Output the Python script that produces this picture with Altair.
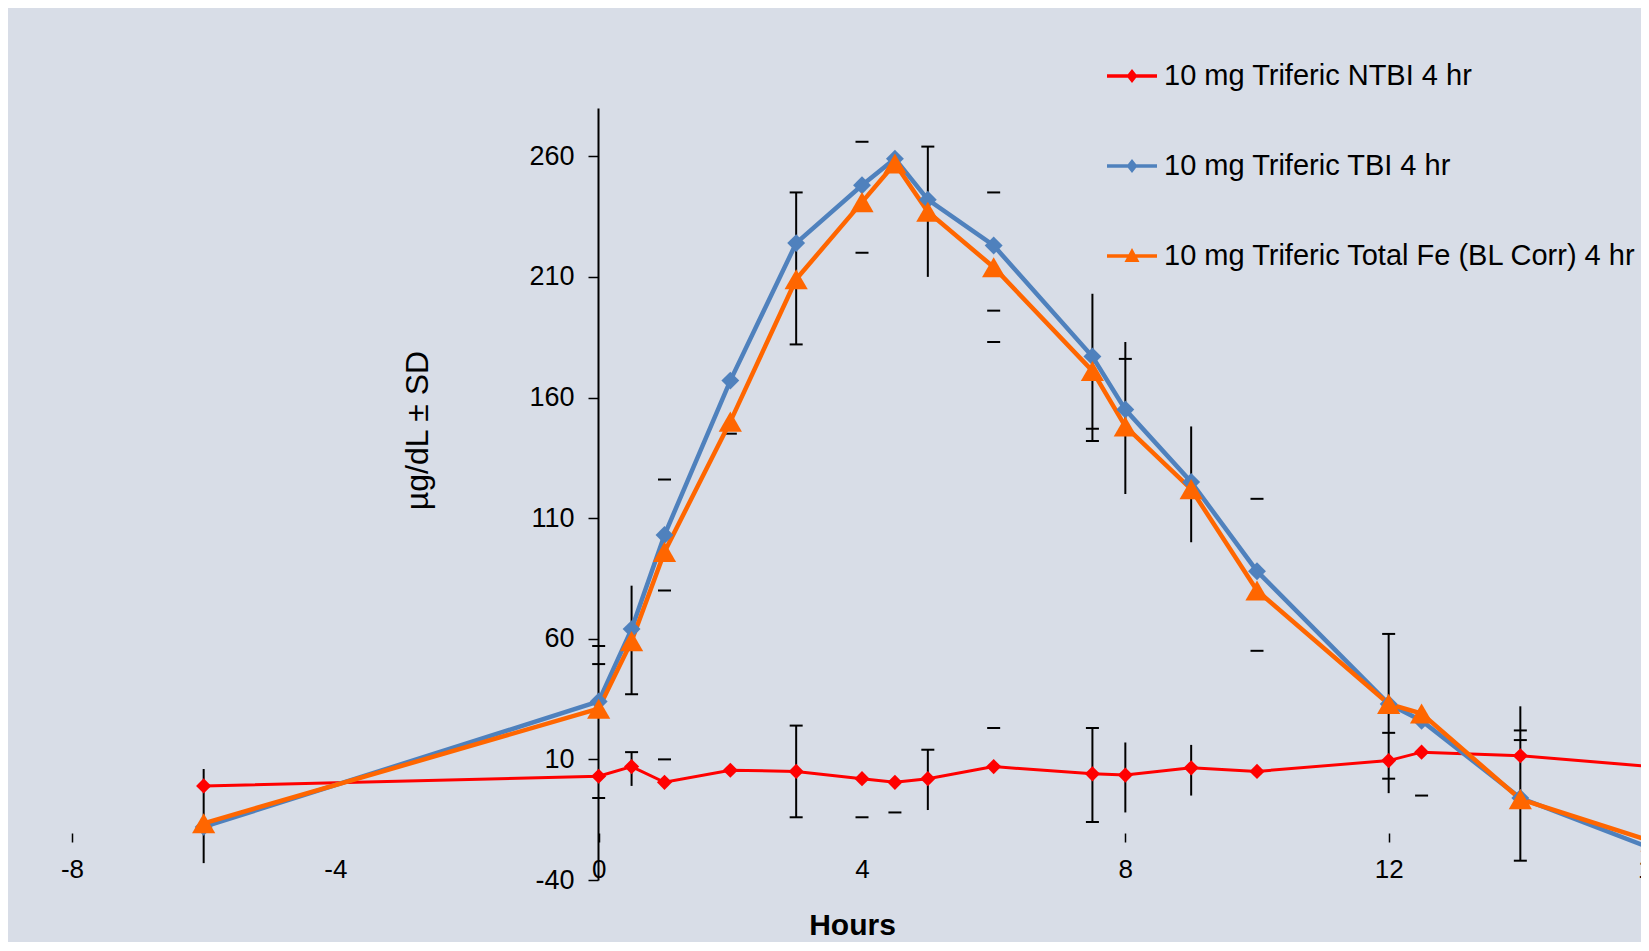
import altair as alt
import pandas as pd

# ---------------- data ----------------
series_names = [
    "10 mg Triferic NTBI 4 hr",
    "10 mg Triferic TBI 4 hr",
    "10 mg Triferic Total Fe (BL Corr) 4 hr",
]
series_colors = ["#FF0000", "#4F81BD", "#FF6600"]
series_shapes = ["diamond", "diamond", "triangle-up"]
series_sizes = [230, 320, 540]
series_widths = [3, 4.5, 4.5]

hours = [-6, 0, 0.5, 1, 2, 3, 4, 4.5, 5, 6, 7.5, 8, 9, 10, 12, 12.5, 14, 16]
ntbi = [-1, 3, 7, 0.5, 5.5, 5, 2, 0.5, 2, 7, 4, 3.5, 6.5, 5, 9.5, 13, 11.5, 7]
tbi = [-18, 34, 64, 103, 167, 224, 248, 259, 242, 223, 177, 155, 125, 88, 33, 26, -6, -27]
total_fe = [-16.5, 31, 59, 96, 150, 209, 241, 257, 237, 214, 171, 148, 122, 80, 33, 29, -6.5, -24]

# visible error-bar lines (SD)
eb_x = [-6, 0.5, 0.5, 3, 3, 5, 5, 7.5, 7.5, 8, 8, 9, 9, 12, 14]
eb_lo = [-33, 37, -1, 182, -14, 210, -11, 142, -16, 120, -12, 100, -5, -4, -32]
eb_hi = [6, 82, 13, 245, 24, 264, 14, 203, 23, 183, 17, 148, 16, 62, 32]

# visible error-bar caps
cap_x = [0, 0, 0, 0.5, 0.5, 1, 1, 1, 2, 3, 3, 3, 3, 4, 4, 4, 4.5, 5, 5,
         6, 6, 6, 6, 7.5, 7.5, 7.5, 7.5, 8, 10, 10, 12, 12, 12, 12.5, 14, 14, 14]
cap_y = [57, 49.5, -6, 37, 13, 126, 80, 10, 145, 182, 245, -14, 24, 266, 220, -14, -12, 264, 14,
         245, 196, 183, 23, 142, 147, -16, 23, 176, 118, 55, 62, 21, 2, -5, 22, 18, -32]

x_ticks = [-8, -4, 0, 4, 8, 12, 16]
x_hidden_ticks = [-4, 4]
y_ticks = [-40, 10, 60, 110, 160, 210, 260]

# ---------------- tables ----------------
rows = []
for name, vals in zip(series_names, [ntbi, tbi, total_fe]):
    for h, v in zip(hours, vals):
        rows.append({"series": name, "hours": h, "value": v})
df = pd.DataFrame(rows)
df_eb = pd.DataFrame({"hours": eb_x, "value": eb_lo, "value2": eb_hi})
df_cap = pd.DataFrame({"hours": cap_x, "value": cap_y})

FONT = "Liberation Sans"
BG = "#D8DDE7"

xscale = alt.Scale(domain=[-8, 16], range=[0, 1580], nice=False, zero=False)
yscale = alt.Scale(domain=[-40, 280], nice=False, zero=False)
color_scale = alt.Scale(domain=series_names, range=series_colors)

hidden = " || ".join(f"datum.value == {v}" for v in x_hidden_ticks)
xaxis = alt.Axis(
    values=x_ticks, orient="bottom", offset=-47, domain=False, grid=False,
    ticks=True, tickSize=9, tickWidth=1.5,
    tickColor=alt.expr(f"({hidden}) ? 'transparent' : 'black'"),
    labelExpr="'' + datum.value",
    labelFont=FONT, labelFontSize=26, labelColor="black", labelPadding=14,
    labelFlush=False, labelOverlap=False,
    titleFont=FONT, titleFontSize=30, titleFontWeight="bold", titleColor="black",
    titleX=780, titleY=92, titleBaseline="middle", titleAlign="center",
)
yaxis = alt.Axis(
    values=y_ticks, orient="left", offset=-526, domain=True, domainColor="black",
    domainWidth=2, grid=False, ticks=True, tickSize=10, tickWidth=1.5, tickColor="black",
    labelExpr="'' + datum.value",
    labelFont=FONT, labelFontSize=27, labelColor="black", labelPadding=14,
    labelFlush=False, labelOverlap=False,
    titleFont=FONT, titleFontSize=32, titleFontWeight="normal", titleColor="black",
    titleAngle=270, titleX=-181, titleY=322, titleBaseline="middle", titleAlign="center",
)

X = alt.X("hours:Q", scale=xscale, axis=xaxis, title="Hours")
Y = alt.Y("value:Q", scale=yscale, axis=yaxis, title="µg/dL ± SD")

# legend symbols: line with marker (custom paths, unit = half symbol width)
line_part = "M-1,-0.07L1,-0.07L1,0.07L-1,0.07Z"
path_for = {
    "diamond": line_part + " M0,-0.28L0.22,0L0,0.28L-0.22,0Z",
    "triangle-up": line_part + " M0,-0.32L0.3,0.24L-0.3,0.24Z",
}
shape_expr = "'" + path_for["diamond"] + "'"
for name, shp in zip(series_names, series_shapes):
    shape_expr = f"datum.value == '{name}' ? '{path_for[shp]}' : ({shape_expr})"

legend = alt.Legend(
    title=None, orient="none", legendX=1035, legendY=-57, direction="vertical",
    symbolType=alt.expr(shape_expr), symbolSize=2500, symbolStrokeWidth=0,
    symbolOpacity=1,
    labelFont=FONT, labelFontSize=29, labelColor="black", labelLimit=0,
    labelOffset=7, rowPadding=50, padding=0,
)

layers = []
layers.append(
    alt.Chart(df_eb).mark_rule(color="black", strokeWidth=2).encode(
        x=X, y=Y, y2=alt.Y2("value2:Q"))
)
layers.append(
    alt.Chart(df_cap).mark_tick(orient="horizontal", color="black", size=13,
                                thickness=2, opacity=1).encode(x=X, y=Y)
)
for name, col, w in zip(series_names, series_colors, series_widths):
    layers.append(
        alt.Chart(df).transform_filter(alt.datum.series == name)
        .mark_line(color=col, strokeWidth=w)
        .encode(x=X, y=Y, order=alt.Order("hours:Q"))
    )
for name, shp, sz in zip(series_names, series_shapes, series_sizes):
    layers.append(
        alt.Chart(df).transform_filter(alt.datum.series == name)
        .mark_point(filled=True, opacity=1, shape=shp, size=sz)
        .encode(x=X, y=Y,
                color=alt.Color("series:N", scale=color_scale, legend=legend,
                                sort=series_names))
    )

# SVG kept within the window (1633 x 934) so the page never overflows
chart = alt.layer(*layers).properties(
    width=1569, height=772,
    autosize=alt.AutoSizeParams(type="none"),
    padding={"left": 64, "top": 100, "right": 0, "bottom": 62},
    background=BG,
).configure_view(stroke=None)

chart.save("out.html", embed_options={"renderer": "svg", "actions": False})
